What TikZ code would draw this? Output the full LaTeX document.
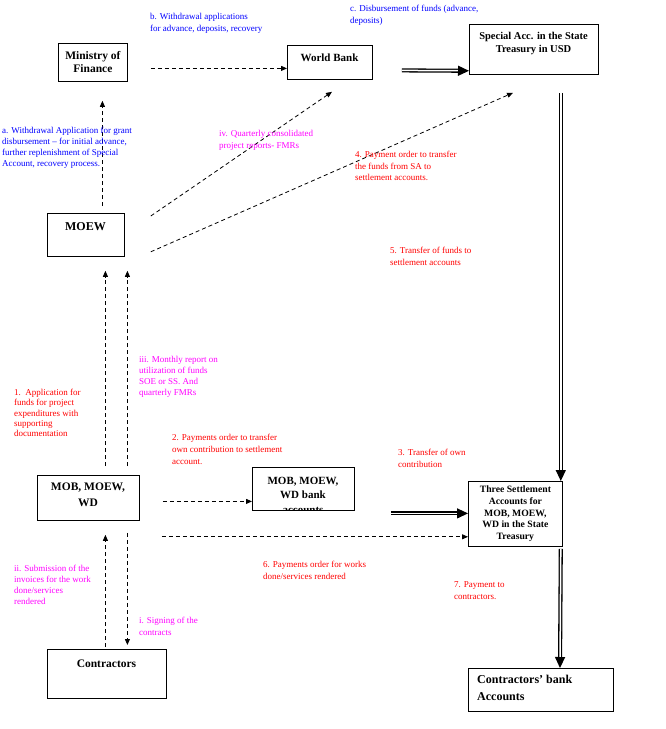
\documentclass[tikz,border=0pt]{standalone}
\usepackage{fontspec}
\setmainfont{Liberation Serif}
\usetikzlibrary{arrows.meta}
\definecolor{lblue}{RGB}{0,0,255}
\definecolor{lmag}{RGB}{255,0,255}
\definecolor{lred}{RGB}{255,0,0}
\begin{document}
\begin{tikzpicture}[x=1pt,y=-1pt,
  boxst/.style={draw,line width=0.8pt,inner sep=0pt,anchor=north west},
  boxtxt/.style={inner sep=0pt,align=center,font=\bfseries\fontsize{11.5}{13}\selectfont},
  lab/.style={inner sep=0pt,anchor=north west,align=left,font=\fontsize{9}{12}\selectfont},
  dsh/.style={line width=0.8pt,dash pattern=on 4pt off 3pt,-{Triangle[length=6pt,width=5pt]}},
  dbl/.style={double,double distance=1.5pt,line width=1.3pt,-{Triangle[length=11pt,width=10pt]}}]
\useasboundingbox (0,0) rectangle (666,729);
% boxes
\node[boxst,minimum width=69pt,minimum height=38pt,boxtxt] (mof) at (58,43) {Ministry of\\Finance};
\node[boxst,minimum width=85pt,minimum height=34pt] (wb) at (287,45) {};
\node[boxtxt,font=\bfseries\fontsize{11}{13}\selectfont] (wbt) at (329.5,57.5) {World Bank};
\node[boxst,minimum width=129pt,minimum height=50pt] (sa) at (469,24) {};
\node[boxtxt,font=\bfseries\fontsize{10.5}{13}\selectfont] (sat) at (533.5,43) {Special Acc. in the State\\Treasury in USD};
\node[boxst,minimum width=77pt,minimum height=43pt] (moew) at (47,213) {};
\node[boxtxt,font=\bfseries\fontsize{12}{13}\selectfont] (moewt) at (85.5,226.5) {MOEW};
\node[boxst,minimum width=102pt,minimum height=45pt] (mob) at (37,475) {};
\node[boxtxt,font=\bfseries\fontsize{11.5}{16}\selectfont] (mobt) at (88,494.5) {MOB, MOEW,\\WD};
\node[boxst,minimum width=102pt,minimum height=43pt] (bank) at (252,467) {};
\begin{scope}
\clip (bank.north west) rectangle (bank.south east);
\node[boxtxt,font=\bfseries\fontsize{11}{14.5}\selectfont,anchor=north] (bankt) at (303,477) {MOB, MOEW,\\WD bank\\accounts};
\end{scope}
\node[boxst,minimum width=94pt,minimum height=65pt,boxtxt,font=\bfseries\fontsize{9.7}{11.75}\selectfont] (tsa) at (468,481) {Three Settlement\\Accounts for\\MOB, MOEW,\\WD in the State\\Treasury};
\node[boxst,minimum width=119pt,minimum height=49pt] (con) at (47,649) {};
\node[boxtxt] (cont) at (106.5,663.5) {Contractors};
\node[boxst,minimum width=145pt,minimum height=43pt] (cba) at (468,668) {};
\node[boxtxt,align=left,anchor=west,font=\bfseries\fontsize{12}{17}\selectfont] (cbat) at (477,687.5) {Contractors’ bank\\Accounts};
% connectors
\draw[dsh] ([xshift=23pt,yshift=-6pt]mof.east) -- ([yshift=-6pt]wb.west);
\draw[dbl] ([xshift=29pt,yshift=-8pt]wb.east) -- ([yshift=4pt]sa.south west);
\draw[dsh] ([xshift=16.5pt,yshift=7pt]moew.north) -- ([xshift=9.5pt,yshift=-19pt]mof.south);
\draw[dsh] ([xshift=26pt,yshift=-3pt]moew.north east) -- ([xshift=45pt,yshift=-12pt]wb.south west);
\draw[dsh] ([xshift=26pt,yshift=5pt]moew.south east) -- ([xshift=44pt,yshift=-18pt]sa.south west);
\draw[dsh] ([xshift=17pt,yshift=9pt]mob.north) -- ([xshift=19.5pt,yshift=-14pt]moew.south);
\draw[dsh] ([xshift=39pt,yshift=9pt]mob.north) -- ([xshift=41.5pt,yshift=-14pt]moew.south);
\draw[dsh] ([xshift=23pt,yshift=-3.5pt]mob.east) -- ([yshift=-12.5pt]bank.west);
\draw[dsh] ([xshift=22pt,yshift=-16pt]mob.south east) -- ([yshift=10pt]tsa.south west);
\draw[dbl] ([xshift=36pt,yshift=-24.5pt]bank.east) -- ([yshift=0.5pt]tsa.west);
\draw[dbl] ([xshift=-38pt,yshift=-18pt]sa.south east) -- ([xshift=-2pt]tsa.north east);
\draw[dbl] ([xshift=-2pt,yshift=-2pt]tsa.south east) -- ([xshift=92pt]cba.north west);
\draw[dsh] ([xshift=-1.5pt,yshift=2pt]con.north) -- ([xshift=17pt,yshift=-14pt]mob.south);
\draw[dsh] ([xshift=39pt,yshift=-12pt]mob.south) -- ([xshift=20.5pt,yshift=4pt]con.north);
% labels
\node[lab,text=lblue] (lb) at (150,13) {b. Withdrawal applications\\for advance, deposits, recovery};
\node[lab,text=lblue] (lc) at (350,5) {c. Disbursement of funds (advance,\\deposits)};
\node[lab,text=lblue,font=\fontsize{9}{11}\selectfont] (la) at (2,127) {a. Withdrawal Application for grant\\disbursement – for initial advance,\\further replenishment of Special\\Account, recovery process.};
\node[lab,text=lmag] (liv) at (219,130) {iv. Quarterly consolidated\\project reports- FMRs};
\node[lab,text=lred,font=\fontsize{9}{11.5}\selectfont] (l4) at (355,151) {4. Payment order to transfer\\the funds from SA to\\settlement accounts.};
\node[lab,text=lred] (l5) at (390,247) {5. Transfer of funds to\\settlement accounts};
\node[lab,text=lmag,font=\fontsize{9}{11}\selectfont] (liii) at (139,356) {iii. Monthly report on\\utilization of funds\\SOE or SS. And\\quarterly FMRs};
\node[lab,text=lred,font=\fontsize{9}{10.3}\selectfont] (l1) at (14,389) {1.\ \ Application for\\funds for project\\expenditures with\\supporting\\documentation};
\node[lab,text=lred] (l2) at (172,434) {2. Payments order to transfer\\own contribution to settlement\\account.};
\node[lab,text=lred] (l3) at (398,449) {3. Transfer of own\\contribution};
\node[lab,text=lred] (l6) at (263,561) {6. Payments order for works\\done/services rendered};
\node[lab,text=lred] (l7) at (454,581) {7. Payment to\\contractors.};
\node[lab,text=lmag,font=\fontsize{9}{11}\selectfont] (lii) at (14,565) {ii. Submission of the\\invoices for the work\\done/services\\rendered};
\node[lab,text=lmag] (li) at (139,617) {i. Signing of the\\contracts};
\end{tikzpicture}
\end{document}
